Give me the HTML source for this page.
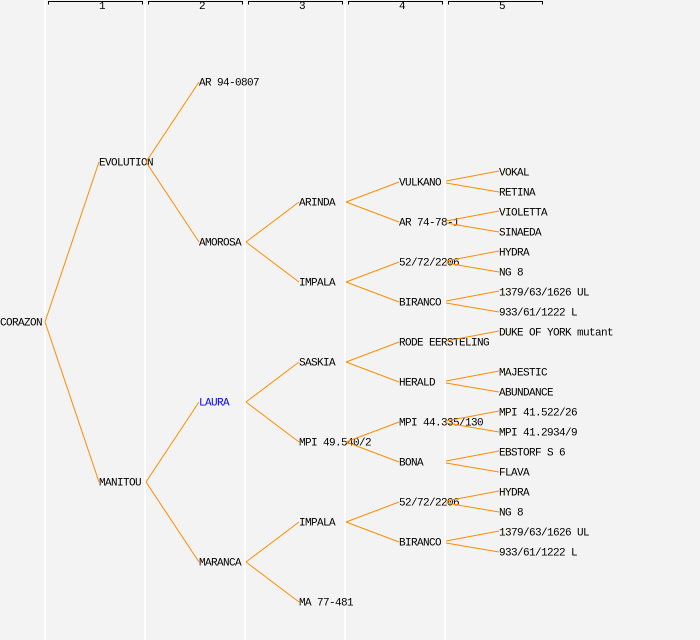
<!DOCTYPE html>
<html><head><meta charset="utf-8"><style>
html,body{margin:0;padding:0;background:#f3f3f3;}
svg{display:block;}
text{font-family:"Liberation Mono","DejaVu Sans Mono",monospace;font-size:11px;letter-spacing:-0.6px;fill:#000;}
</style></head><body>
<svg width="700" height="640" viewBox="0 0 700 640" xmlns="http://www.w3.org/2000/svg">
<rect width="700" height="640" fill="#f3f3f3"/>
<g stroke="#ffffff" stroke-width="2">
<line x1="45" y1="0" x2="45" y2="640"/><line x1="145" y1="0" x2="145" y2="640"/><line x1="245" y1="0" x2="245" y2="640"/><line x1="345" y1="0" x2="345" y2="640"/><line x1="445" y1="0" x2="445" y2="640"/>
</g>
<g stroke="#000" stroke-width="1" fill="none">
<path d="M48.5 4.5V1.5H142.5V4.5"/><path d="M148.5 4.5V1.5H242.5V4.5"/><path d="M248.5 4.5V1.5H342.5V4.5"/><path d="M348.5 4.5V1.5H442.5V4.5"/><path d="M448.5 4.5V1.5H542.5V4.5"/>
</g>
<g style="font-size:8px;letter-spacing:0" text-anchor="middle">
<text x="102" y="9">1</text><text x="202" y="9">2</text><text x="302" y="9">3</text><text x="402" y="9">4</text><text x="502" y="9">5</text>
</g>
<g dominant-baseline="central" transform="translate(0,1.5)">
<text x="0" y="322">CORAZON</text>
<text x="99" y="162">EVOLUTION</text><text x="99" y="482">MANITOU</text>
<text x="199" y="82">AR 94-0807</text><text x="199" y="242">AMOROSA</text><text x="199" y="402" style="fill:#0000ff">LAURA</text><text x="199" y="562">MARANCA</text>
<text x="299" y="202">ARINDA</text><text x="299" y="282">IMPALA</text><text x="299" y="362">SASKIA</text><text x="299" y="442">MPI 49.540/2</text><text x="299" y="522">IMPALA</text><text x="299" y="602">MA 77-481</text>
<text x="399" y="182">VULKANO</text><text x="399" y="222">AR 74-78-1</text><text x="399" y="262">52/72/2206</text><text x="399" y="302">BIRANCO</text><text x="399" y="342">RODE EERSTELING</text><text x="399" y="382">HERALD</text><text x="399" y="422">MPI 44.335/130</text><text x="399" y="462">BONA</text><text x="399" y="502">52/72/2206</text><text x="399" y="542">BIRANCO</text>
<text x="499" y="172">VOKAL</text><text x="499" y="192">RETINA</text><text x="499" y="212">VIOLETTA</text><text x="499" y="232">SINAEDA</text><text x="499" y="252">HYDRA</text><text x="499" y="272">NG 8</text><text x="499" y="292">1379/63/1626 UL</text><text x="499" y="312">933/61/1222 L</text><text x="499" y="332">DUKE OF YORK mutant</text><text x="499" y="372">MAJESTIC</text><text x="499" y="392">ABUNDANCE</text><text x="499" y="412">MPI 41.522/26</text><text x="499" y="432">MPI 41.2934/9</text><text x="499" y="452">EBSTORF S 6</text><text x="499" y="472">FLAVA</text><text x="499" y="492">HYDRA</text><text x="499" y="512">NG 8</text><text x="499" y="532">1379/63/1626 UL</text><text x="499" y="552">933/61/1222 L</text>
</g>
<g stroke="#ff8c00" stroke-width="1" fill="none">
<path d="M45 322L99 162M45 322L99 482"/>
<path d="M146 162L199 82M146 162L199 242M146 482L199 402M146 482L199 562"/>
<path d="M246 242L299 202M246 242L299 282M246 402L299 362M246 402L299 442M246 562L299 522M246 562L299 602"/>
<path d="M346 202L399 182M346 202L399 222M346 282L399 262M346 282L399 302M346 362L399 342M346 362L399 382M346 442L399 422M346 442L399 462M346 522L399 502M346 522L399 542"/>
<path d="M446 181L499 171M446 183L499 192M446 221L499 211M446 223L499 232M446 261L499 251M446 263L499 272M446 301L499 291M446 303L499 312M446 341L499 331M446 381L499 371M446 383L499 392M446 421L499 411M446 423L499 432M446 461L499 451M446 463L499 472M446 501L499 491M446 503L499 512M446 541L499 531M446 543L499 552"/>
</g>
</svg>
</body></html>
